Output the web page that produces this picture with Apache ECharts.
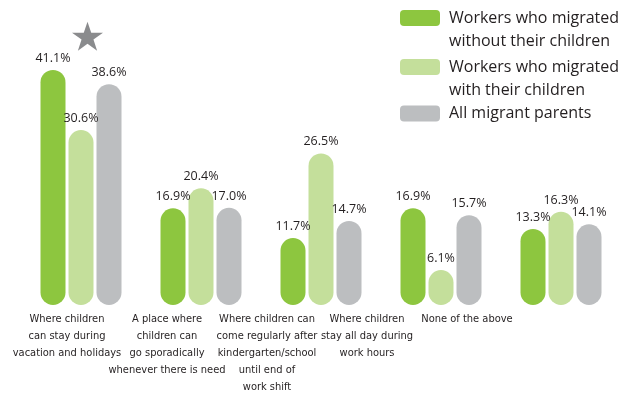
<!DOCTYPE html>
<html>
<head>
<meta charset="utf-8">
<script src="https://cdn.jsdelivr.net/npm/echarts@6/dist/echarts.min.js"></script>
<style>
  html, body { margin: 0; padding: 0; background: #ffffff; }
  #chart { width: 635px; height: 396px; }
</style>
</head>
<body>
<div id="chart"></div>
<script>
// Survey: what kind of childcare place migrant parents would want
const categories = [
  'Where children\ncan stay during\nvacation and holidays',
  'A place where\nchildren can\ngo sporadically\nwhenever there is need',
  'Where children can\ncome regularly after\nkindergarten/school\nuntil end of\nwork shift',
  'Where children\nstay all day during\nwork hours',
  'None of the above'
];
const seriesNames = [
  'Workers who migrated without their children',
  'Workers who migrated with their children',
  'All migrant parents'
];
// a leading blank line keeps the first line level with the legend swatch
const legendLabels = [
  '\nWorkers who migrated\nwithout their children',
  '\nWorkers who migrated\nwith their children',
  'All migrant parents'
];
const withoutChildren = [41.1, 16.9, 11.7, 16.9, 13.3];
const withChildren = [30.6, 20.4, 26.5, 6.1, 16.3];
const allParents = [38.6, 17.0, 14.7, 15.7, 14.1];
// star highlighting the top answer (first category)
const starMarker = [47, null, null, null, null];

const colors = ['#8dc63f', '#c4df9b', '#bcbec0'];
const textColor = '#231f20';
const labelFont = '"DejaVu Sans Condensed", Lato, sans-serif';
const legendFont = '"Open Sans", sans-serif';

const STAR = 'path://M50,0 L61.8,35.1 L98.9,35.1 L68.8,56.7 L80.3,91.9 L50,70.2 L19.7,91.9 L31.2,56.7 L1.1,35.1 L38.2,35.1 Z';

const valueSeries = [withoutChildren, withChildren, allParents];

function barSeries(i) {
  return {
    name: seriesNames[i],
    type: 'bar',
    xAxisIndex: 0,
    yAxisIndex: 0,
    data: valueSeries[i],
    barWidth: 25,
    barGap: '12%',
    itemStyle: { color: colors[i], borderRadius: 12.5 },
    label: {
      show: true,
      position: 'top',
      distance: 5,
      formatter: p => p.value.toFixed(1) + '%',
      color: textColor,
      fontSize: 12.5,
      fontFamily: '"Open Sans", sans-serif'
    },
    emphasis: { disabled: true }
  };
}

function legendItem(i, top) {
  return {
    orient: 'vertical',
    left: 400,
    top: top,
    padding: 0,
    itemWidth: 40,
    itemHeight: 16,
    icon: 'roundRect',
    selectedMode: false,
    data: [seriesNames[i]],
    formatter: () => legendLabels[i],
    textStyle: {
      color: textColor,
      fontSize: 16,
      fontFamily: legendFont,
      lineHeight: 23,
      padding: [0, 0, 0, 4]
    }
  };
}

const chart = echarts.init(document.getElementById('chart'), null, { renderer: 'canvas' });
chart.setOption({
  animation: false,
  backgroundColor: '#ffffff',
  legend: [
    legendItem(0, -16.5),
    legendItem(1, 32.5),
    legendItem(2, 102)
  ],
  grid: [
    { left: 21, width: 600, top: 19, bottom: 91 },
    { left: 17, width: 500, top: 19, bottom: 91 }
  ],
  xAxis: [
    {
      type: 'category', gridIndex: 0, data: categories,
      axisLine: { show: false }, axisTick: { show: false }, axisLabel: { show: false }
    },
    {
      type: 'category', gridIndex: 1, data: categories,
      axisLine: { show: false }, axisTick: { show: false },
      axisLabel: {
        interval: 0,
        margin: 6,
        color: textColor,
        fontSize: 11,
        lineHeight: 17,
        fontFamily: labelFont,
        align: 'center'
      }
    }
  ],
  yAxis: [
    { type: 'value', gridIndex: 0, min: 0, max: 50, show: false, splitLine: { show: false } },
    { type: 'value', gridIndex: 1, min: 0, max: 50, show: false, splitLine: { show: false } }
  ],
  series: [
    barSeries(0),
    barSeries(1),
    barSeries(2),
    {
      name: 'marker',
      type: 'scatter',
      xAxisIndex: 0,
      yAxisIndex: 0,
      data: starMarker,
      symbol: STAR,
      symbolSize: [31, 29],
      symbolOffset: [6.5, 0],
      itemStyle: { color: '#6d6e71' },
      silent: true,
      z: 5
    }
  ]
});
</script>
</body>
</html>
